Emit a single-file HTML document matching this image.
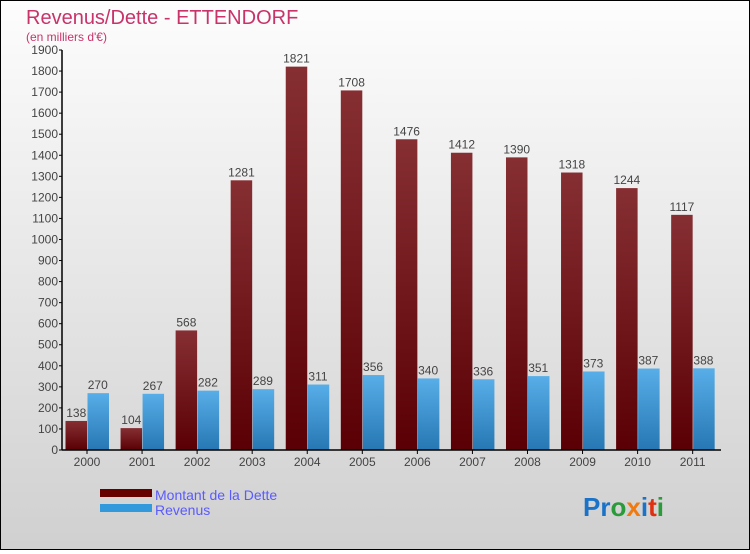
<!DOCTYPE html>
<html><head><meta charset="utf-8"><style>
html,body{margin:0;padding:0}
body{width:750px;height:550px;overflow:hidden;font-family:"Liberation Sans",sans-serif}
#wrap{position:relative;width:748px;height:548px;border:1px solid #000;background:linear-gradient(#fdfdfd,#d0d0d0)}
</style></head><body>
<div id="wrap">
<svg id="chart" width="748" height="548">
<defs>
<linearGradient id="gRed" x1="0" y1="0" x2="0" y2="1"><stop offset="0" stop-color="#862f33"/><stop offset="1" stop-color="#5a0005"/></linearGradient>
<linearGradient id="gBlue" x1="0" y1="0" x2="0" y2="1"><stop offset="0" stop-color="#58aee8"/><stop offset="1" stop-color="#2677b3"/></linearGradient>
</defs>
<text x="25" y="23" font-size="20" fill="#c8336a">Revenus/Dette - ETTENDORF</text>
<text x="25" y="40" font-size="12" fill="#c8336a">(en milliers d'€)</text>
<g id="plot"></g>
<g>
<rect x="99" y="488" width="52" height="8" fill="#660000"/>
<text x="154" y="499" font-size="14" fill="#5a5aff">Montant de la Dette</text>
<rect x="99" y="503" width="52" height="8" fill="#3399dd"/>
<text x="154" y="514" font-size="14" fill="#5a5aff">Revenus</text>
</g>
<g font-size="26" font-weight="bold">
<text x="582" y="515"><tspan fill="#1a73c8">Pr</tspan><tspan fill="#2a9a3a">o</tspan><tspan fill="#f07a10">x</tspan><tspan fill="#1a73c8">i</tspan><tspan fill="#e03010">t</tspan><tspan fill="#2a9a3a">i</tspan></text>
</g>
</svg>
</div>
<script>
const years=["2000","2001","2002","2003","2004","2005","2006","2007","2008","2009","2010","2011"];
const dette=[138,104,568,1281,1821,1708,1476,1412,1390,1318,1244,1117];
const revenus=[270,267,282,289,311,356,340,336,351,373,387,388];
const yTicks=[0,100,200,300,400,500,600,700,800,900,1000,1100,1200,1300,1400,1500,1600,1700,1800,1900];
const NS="http://www.w3.org/2000/svg";
const g=document.getElementById('plot');
const x0=61,y0=449,yTop=49,yMax=1900,step=55.06,first=86,bw=21.5;
function y(v){return y0-(v/yMax)*(y0-yTop);}
function xc(i){return first+i*step;}
function mk(t,a){const e=document.createElementNS(NS,t);for(const k in a)e.setAttribute(k,a[k]);g.appendChild(e);return e;}
yTicks.forEach(v=>{
 const l=mk('line',{x1:x0-3,x2:x0,y1:y(v),y2:y(v),stroke:'#000'});
 
 
 const t=mk('text',{x:x0-4,y:y(v)+4,'font-size':12,'text-anchor':'end',fill:'#444'});
 t.textContent=v;
 
 
});
years.forEach((yr,i)=>{
 const c=xc(i);
 const r=mk('rect',{x:c-bw,y:y(dette[i]),width:bw,height:y0-y(dette[i]),fill:'url(#gRed)'});
 
 
 const b=mk('rect',{x:c+0.5,y:y(revenus[i]),width:bw,height:y0-y(revenus[i]),fill:'url(#gBlue)'});
 
 
 const t1=mk('text',{x:c-bw/2,y:y(dette[i])-4,'font-size':12,'text-anchor':'middle',fill:'#444'});
 t1.textContent=dette[i];
 
 
 const t2=mk('text',{x:c+bw/2,y:y(revenus[i])-4,'font-size':12,'text-anchor':'middle',fill:'#444'});
 t2.textContent=revenus[i];
 
 
 const tk=mk('line',{x1:c,x2:c,y1:y0,y2:y0+4,stroke:'#000'});
 
 
 const xl=mk('text',{x:c,y:y0+16,'font-size':12,'text-anchor':'middle',fill:'#444'});
 xl.textContent=yr;
 
 
});
const ya=mk('line',{x1:x0,x2:x0,y1:yTop,y2:y0,stroke:'#000','stroke-width':1.5});


const xa=mk('line',{x1:x0,x2:720,y1:y0,y2:y0,stroke:'#000','stroke-width':1.5});


</script>
</body></html>
